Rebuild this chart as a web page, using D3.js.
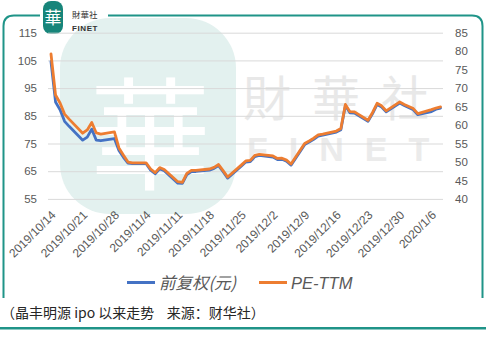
<!DOCTYPE html>
<html>
<head>
<meta charset="utf-8">
<script src="https://cdn.jsdelivr.net/npm/d3@7"></script>
<style>
  body { margin: 0; background: #fff; }
  svg { display: block; }
</style>
</head>
<body>
<svg id="chart" width="486" height="337"></svg>
<script>
// Trading days since listing
const tradeDates = [
  "2019-10-14","2019-10-15","2019-10-16","2019-10-17","2019-10-18",
  "2019-10-21","2019-10-22","2019-10-23","2019-10-24","2019-10-25",
  "2019-10-28","2019-10-29","2019-10-30","2019-10-31","2019-11-01",
  "2019-11-04","2019-11-05","2019-11-06","2019-11-07","2019-11-08",
  "2019-11-11","2019-11-12","2019-11-13","2019-11-14","2019-11-15",
  "2019-11-18","2019-11-19","2019-11-20","2019-11-21","2019-11-22",
  "2019-11-25","2019-11-26","2019-11-27","2019-11-28","2019-11-29",
  "2019-12-02","2019-12-03","2019-12-04","2019-12-05","2019-12-06",
  "2019-12-09","2019-12-10","2019-12-11","2019-12-12","2019-12-13",
  "2019-12-16","2019-12-17","2019-12-18","2019-12-19","2019-12-20",
  "2019-12-23","2019-12-24","2019-12-25","2019-12-26","2019-12-27",
  "2019-12-30","2019-12-31","2020-01-02","2020-01-03",
  "2020-01-06","2020-01-07","2020-01-08"
];

// 前复权 close (元), left axis
const priceValues = [
  104.6, 90.0, 87.2, 83.0, 81.2,
  76.2, 77.3, 80.2, 76.2, 76.0,
  76.8, 72.5, 70.0, 67.9, 67.7,
  67.7, 65.4, 64.1, 65.9, 65.2,
  60.7, 60.6, 63.8, 64.9, 64.9,
  65.4, 66.0, 67.0, 64.8, 62.5,
  66.8, 68.3, 68.5, 70.3, 70.7,
  70.1, 69.2, 69.3, 68.6, 67.2,
  74.6, 75.5, 76.5, 77.7, 78.0,
  79.1, 80.0, 88.7, 86.1, 86.0,
  83.0, 85.8, 89.1, 88.2, 86.4,
  89.6, 88.7, 87.2, 85.4,
  86.5, 87.4, 87.8
];

// PE-TTM, right axis
const peValues = [
  79.23, 68.13, 65.95, 62.95, 61.60,
  57.78, 58.68, 60.70, 57.85, 57.55,
  58.15, 53.80, 51.85, 49.98, 49.75,
  49.75, 48.10, 47.13, 48.48, 47.95,
  44.65, 44.50, 46.90, 47.73, 47.73,
  48.10, 48.55, 49.30, 47.65, 45.93,
  49.15, 50.28, 50.43, 51.78, 52.08,
  51.63, 50.95, 51.03, 50.50, 49.45,
  55.00, 55.68, 56.43, 57.33, 57.55,
  58.38, 59.05, 65.58, 63.63, 63.55,
  61.30, 63.40, 65.88, 65.20, 63.85,
  66.25, 65.58, 64.45, 63.10,
  64.18, 64.60, 64.90
];

const tickDates = [
  "2019/10/14","2019/10/21","2019/10/28","2019/11/4","2019/11/11",
  "2019/11/18","2019/11/25","2019/12/2","2019/12/9","2019/12/16",
  "2019/12/23","2019/12/30","2020/1/6"
];
const leftTicks = [55, 65, 75, 85, 95, 105, 115];
const rightTicks = [40, 45, 50, 55, 60, 65, 70, 75, 80, 85];
const seriesNames = ["前复权(元)", "PE-TTM"];

const parseISO = d3.timeParse("%Y-%m-%d");
const parseSlash = d3.timeParse("%Y/%m/%d");
const dates = tradeDates.map(parseISO);
const ticks = tickDates.map(parseSlash);

const svg = d3.select("#chart");
const teal = "#1f9488";
const axisText = "#595959";
const font = "'Liberation Sans', Arial, sans-serif";
const cjk = "'Noto Sans CJK SC', sans-serif";

const plotLeft = 48, plotRight = 443, plotTop = 32.7, plotBottom = 198.9;

const x = d3.scaleTime()
  .domain([dates[0], dates[dates.length - 1]])
  .range([51, 440.5]);
const yL = d3.scaleLinear().domain([55, 115]).range([plotBottom, plotTop]);
const yR = d3.scaleLinear().domain([40, 85]).range([plotBottom, plotTop]);

// ---- background watermark ----
const wm = svg.append("g");
wm.append("rect")
  .attr("x", 60).attr("y", 18).attr("width", 176).attr("height", 196)
  .attr("rx", 50).attr("fill", "#e3f1ef");
wm.append("text")
  .attr("x", 150).attr("y", 180)
  .attr("text-anchor", "middle")
  .attr("font-family", cjk).attr("font-size", 122)
  .attr("fill", "#ffffff")
  .text("華");
wm.append("text")
  .attr("x", 243).attr("y", 116)
  .attr("font-family", cjk).attr("font-size", 48)
  .attr("letter-spacing", 21)
  .attr("fill", "#e8e8e8")
  .text("財華社");
wm.append("text")
  .attr("x", 247).attr("y", 161)
  .attr("font-family", font).attr("font-size", 34).attr("font-weight", 700)
  .attr("letter-spacing", 21)
  .attr("fill", "#ebebeb")
  .text("FINET");

// ---- frame ----
const frame = svg.append("g").attr("fill", "none").attr("stroke", teal).attr("stroke-width", 2);
frame.append("path").attr("d", "M40,15.5 H14 Q3.5,15.5 3.5,26 V298");
frame.append("path").attr("d", "M108,15.5 H472 Q482.5,15.5 482.5,26 V298");
svg.append("rect")
  .attr("x", 0).attr("y", 327).attr("width", 486).attr("height", 2.5)
  .attr("fill", teal);

// ---- header logo ----
const logo = svg.append("g");
logo.append("rect")
  .attr("x", 43).attr("y", 1).attr("width", 20).attr("height", 33)
  .attr("rx", 8).attr("fill", "#17857a");
logo.append("text")
  .attr("x", 53).attr("y", 24)
  .attr("text-anchor", "middle")
  .attr("font-family", cjk).attr("font-size", 17)
  .attr("fill", "#ffffff")
  .text("華");
logo.append("text")
  .attr("x", 72).attr("y", 17.5)
  .attr("font-family", cjk).attr("font-size", 8.5).attr("fill", "#333")
  .text("財華社");
logo.append("text")
  .attr("x", 72).attr("y", 30.5)
  .attr("font-family", font).attr("font-size", 8).attr("font-weight", 700)
  .attr("letter-spacing", 0.6).attr("fill", "#333")
  .text("FINET");

// ---- gridlines ----
svg.append("g")
  .attr("transform", `translate(${plotLeft},0)`)
  .call(d3.axisLeft(yL).tickValues(leftTicks).tickSize(-(plotRight - plotLeft)).tickFormat(""))
  .call(g => g.select(".domain").remove())
  .call(g => g.selectAll("line").attr("stroke", "#d9d9d9").attr("stroke-width", 1));

// ---- left axis ----
svg.append("g")
  .attr("transform", `translate(${plotLeft},0)`)
  .call(d3.axisLeft(yL).tickValues(leftTicks).tickSize(0).tickPadding(11))
  .call(g => g.select(".domain").remove())
  .call(g => g.selectAll("text")
    .attr("fill", axisText).attr("font-family", font).attr("font-size", 11.5));

// ---- right axis ----
svg.append("g")
  .attr("transform", `translate(${plotRight},0)`)
  .call(d3.axisRight(yR).tickValues(rightTicks).tickSize(0).tickPadding(12))
  .call(g => g.select(".domain").remove())
  .call(g => g.selectAll("text")
    .attr("fill", axisText).attr("font-family", font).attr("font-size", 11.5));

// ---- bottom axis (rotated dates) ----
const fmt = d3.timeFormat("%Y/%-m/%-d");
svg.append("g")
  .attr("transform", `translate(0,${plotBottom})`)
  .call(d3.axisBottom(x).tickValues(ticks).tickSize(0).tickFormat(fmt))
  .call(g => g.select(".domain").remove())
  .call(g => g.selectAll("text")
    .attr("fill", axisText).attr("font-family", font).attr("font-size", 12)
    .attr("y", 0).attr("dy", "0.35em")
    .attr("text-anchor", "end")
    .attr("transform", "translate(2,14) rotate(-45)"));

// ---- lines ----
const linePrice = d3.line().x((d, i) => x(dates[i])).y(d => yL(d));
const linePE = d3.line().x((d, i) => x(dates[i])).y(d => yR(d));

svg.append("path")
  .datum(priceValues)
  .attr("d", linePrice)
  .attr("fill", "none").attr("stroke", "#4472C4")
  .attr("stroke-width", 2.8).attr("stroke-linejoin", "round").attr("stroke-linecap", "round");
svg.append("path")
  .datum(peValues)
  .attr("d", linePE)
  .attr("fill", "none").attr("stroke", "#ED7D31")
  .attr("stroke-width", 2.8).attr("stroke-linejoin", "round").attr("stroke-linecap", "round");

// ---- legend ----
const legend = svg.append("g");
const legendItems = [
  { name: seriesNames[0], color: "#4472C4", x0: 127, fam: cjk },
  { name: seriesNames[1], color: "#ED7D31", x0: 259, fam: font }
];
legendItems.forEach(it => {
  legend.append("line")
    .attr("x1", it.x0).attr("x2", it.x0 + 28)
    .attr("y1", 282.5).attr("y2", 282.5)
    .attr("stroke", it.color).attr("stroke-width", 3);
  legend.append("text")
    .attr("x", it.x0 + 32).attr("y", 288.5)
    .attr("font-family", it.fam).attr("font-size", 16.5)
    .attr("font-style", "italic")
    .attr("fill", axisText)
    .text(it.name);
});

// ---- source note ----
svg.append("text")
  .attr("x", 1).attr("y", 318)
  .attr("font-family", cjk).attr("font-size", 14)
  .attr("fill", "#262626")
  .text("（晶丰明源 ipo 以来走势\u00a0\u00a0\u00a0\u00a0来源：财华社）");
</script>
</body>
</html>
